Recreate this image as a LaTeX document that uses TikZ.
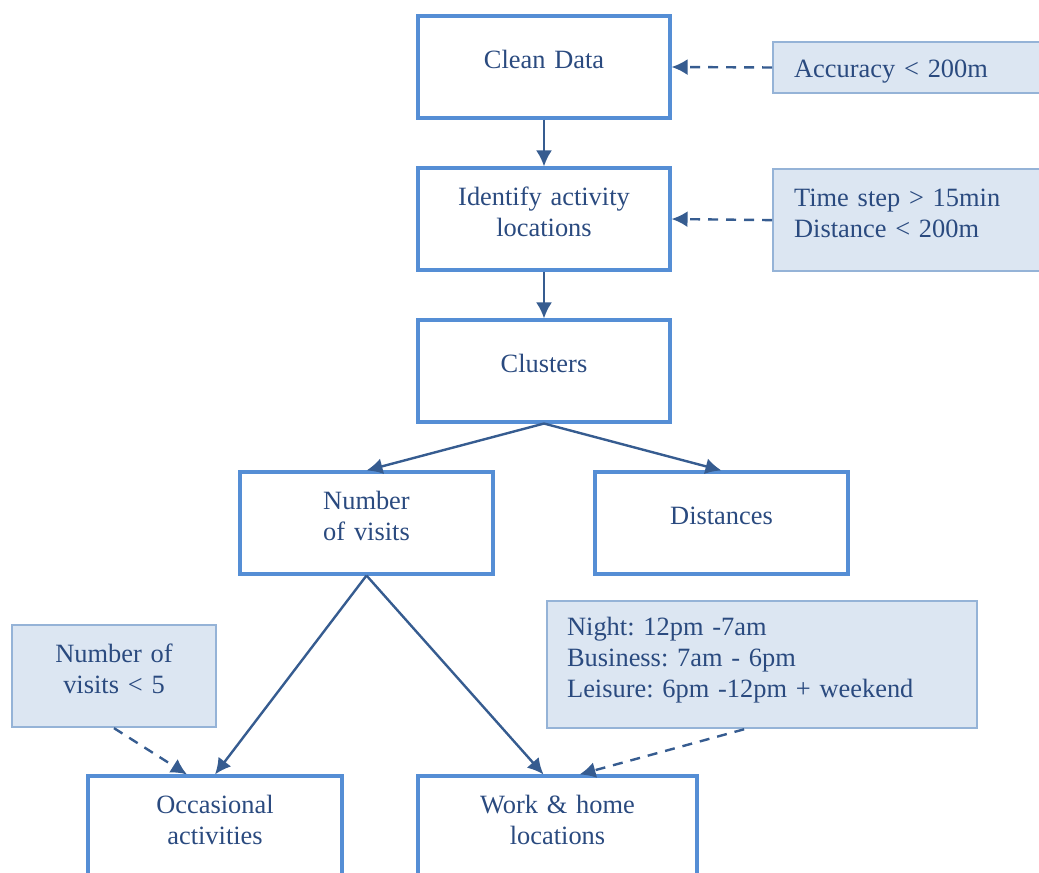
\documentclass[tikz,border=0pt]{standalone}
\usepackage{fontspec}
\setmainfont{Liberation Serif}
\frenchspacing
\usetikzlibrary{arrows.meta}
\definecolor{boxblue}{HTML}{558ED5}
\definecolor{condline}{HTML}{95B3D7}
\definecolor{condfill}{HTML}{DCE6F2}
\definecolor{txtblue}{HTML}{2A4A7F}
\definecolor{lineblue}{HTML}{365C90}
\newcommand\upstrut{\rule{0pt}{17pt}}
\newcommand\dnstrut{\rule[-14.5pt]{0pt}{0pt}}
\begin{document}
\begin{tikzpicture}[x=0.75pt,y=-0.75pt,
    every node/.style={text=txtblue,font=\fontsize{19.8}{23.3}\selectfont,inner ysep=0pt},
    padded/.style={execute at begin node=\upstrut,execute at end node=\dnstrut},
    stage/.style={draw=boxblue,line width=2.3pt,text width=#1,align=center,
        inner xsep=0pt,minimum height=76.5pt,padded},
    stage/.default=189pt,
    cond/.style={draw=condline,line width=1.7pt,fill=condfill},
    flow/.style={draw=lineblue,line width=1.8pt,-{Latex[length=12pt,width=12pt]}},
    hint/.style={flow,dash pattern=on 7.5pt off 6pt}]
    \useasboundingbox (0,0) rectangle (1039,873);
    \clip (0,0) rectangle (1039,873);
    % main chain
    \node[stage] (clean) at (544,67) {Clean Data};
    \node[stage] (ident) at (544,219) {Identify activity\\locations};
    \node[stage] (clusters) at (544,371) {Clusters};
    \node[stage=189.75pt] (visits) at (366.5,523) {Number\\of visits};
    \node[stage=189.75pt] (dist) at (721.5,523) {Distances};
    \node[stage=190.5pt] (occas) at (215,827) {Occasional\\activities};
    \node[stage=209.25pt] (work) at (557.5,827) {Work \& home\\locations};
    % conditions
    \node[cond,anchor=west,align=left,inner xsep=15.75pt,text width=173.25pt,
        minimum height=38.25pt,execute at begin node={\rule{0pt}{19.5pt}}] (acc) at (772,67.5)
        {Accuracy < 200m};
    \node[cond,padded,anchor=north west,align=left,inner xsep=15.75pt,text width=173.25pt,
        minimum height=76.5pt] (tstep) at (772,168) {Time step > 15min\\Distance < 200m};
    \node[cond,padded,align=center,inner xsep=0pt,text width=153pt,
        minimum height=76.5pt] (few) at (114,676) {Number of\\visits < 5};
    \node[cond,padded,anchor=north west,align=left,inner xsep=15pt,text width=292.5pt,
        minimum height=95.25pt] (night) at (546,600)
        {Night: 12pm -7am\\Business: 7am - 6pm\\Leisure: 6pm -12pm + weekend};
    % connectors
    \draw[flow] (clean) -- (ident);
    \draw[flow] (ident) -- (clusters);
    \draw[flow] (clusters.south) -- (visits.north);
    \draw[flow] (clusters.south) -- (dist.north);
    \draw[flow] (visits.south) -- (occas.north);
    \draw[flow] (visits.south) -- ([xshift=-10.5pt]work.north);
    \draw[hint] (acc.west) -- (clean.east);
    \draw[hint] (tstep.west) -- (ident.east);
    \draw[hint] (few.south) -- ([xshift=-21pt]occas.north);
    \draw[hint] ([xshift=-13.5pt]night.south) -- ([xshift=16.5pt]work.north);
\end{tikzpicture}
\end{document}
